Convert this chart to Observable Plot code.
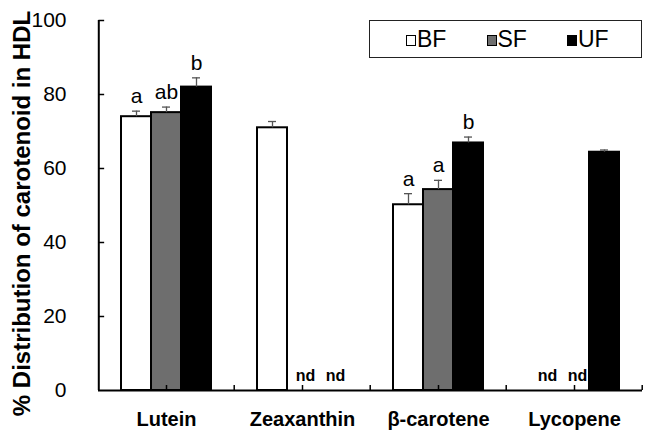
<!DOCTYPE html>
<html>
<head>
<meta charset="utf-8">
<script src="https://cdn.jsdelivr.net/npm/d3@7"></script>
<script src="https://cdn.jsdelivr.net/npm/@observablehq/plot@0.6"></script>
<style>
  html, body { margin: 0; padding: 0; background: white; }
  #wrap { position: relative; width: 651px; height: 439px; font-family: "Liberation Sans", Arial, sans-serif; }
  #legend { position: absolute; left: 369px; top: 20px; width: 273px; height: 38px; border: 1.5px solid #222;
    box-sizing: border-box; font-size: 23px; background: white; }
  .item { position: absolute; top: 0; height: 36px; display: flex; align-items: center; line-height: 1; }
  .sw { width: 8px; height: 9px; border: 1px solid #000; margin-right: 1px; margin-top: 3px; display: inline-block; }
</style>
</head>
<body>
<div id="wrap"></div>
<script>
const categories = ["Lutein", "Zeaxanthin", "β-carotene", "Lycopene"];
const series = ["BF", "SF", "UF"];
const seriesColors = ["white", "#6e6e6e", "black"];
// values (% distribution), null = not detected
const BF = [74.0, 71.0, 50.2, null];
const SF = [75.1, null, 54.3, null];
const UF = [82.0, null, 66.9, 64.4];
// standard errors (upper bars)
const BFerr = [1.5, 1.7, 3.0, null];
const SFerr = [1.5, null, 2.5, null];
const UFerr = [2.5, null, 1.6, 0.6];
// significance letters
const BFsig = ["a", "", "a", ""];
const SFsig = ["ab", "", "a", ""];
const UFsig = ["b", "", "b", ""];
const yTicks = [0, 20, 40, 60, 80, 100];
const yTitle = "% Distribution of carotenoid in HDL";

const table = [[BF, BFerr, BFsig], [SF, SFerr, SFsig], [UF, UFerr, UFsig]];
const rows = [];
categories.forEach((c, i) => {
  series.forEach((s, j) => {
    const [v, e, l] = table[j];
    rows.push({category: c, series: s, value: v[i], err: e[i], letter: l[i]});
  });
});
const present = rows.filter(d => d.value != null);
const nd = rows.filter(d => d.value == null);

const paddingOuter = 0.745;
const facetWidth = (651 - 98 - 9) / categories.length;
const step = facetWidth / (series.length + 2 * paddingOuter);
const edgeOffset = step * (0.5 + paddingOuter);
const first = () => categories[0];

const chart = Plot.plot({
  width: 651,
  height: 439,
  marginLeft: 98,
  marginRight: 9,
  marginTop: 20,
  marginBottom: 49,
  style: {fontFamily: "Liberation Sans, Arial, sans-serif", fontSize: "20px", color: "black", background: "white"},
  fx: {domain: categories, padding: 0, label: null},
  x: {domain: series, paddingInner: 0, paddingOuter, axis: null},
  y: {domain: [0, 100], label: null},
  color: {domain: series, range: seriesColors},
  marks: [
    Plot.barY(present, {fx: "category", x: "series", y: "value", fill: "series", stroke: "black", strokeWidth: 2}),
    Plot.ruleX(present, {fx: "category", x: "series", y1: "value", y2: d => d.value + d.err, stroke: "#555", strokeWidth: 1.3}),
    Plot.tickY(present, {fx: "category", x: "series", y: d => d.value + d.err, stroke: "#555", strokeWidth: 1.3, inset: 11}),
    Plot.text(present, {fx: "category", x: "series", y: d => d.value + d.err, text: "letter", lineAnchor: "bottom", dy: -8, fontSize: 21}),
    Plot.text(nd, {fx: "category", x: "series", y: 0, text: () => "nd", lineAnchor: "bottom", dy: -10, dx: 3, fontSize: 16, fontWeight: "bold"}),
    // x axis line and inward ticks (centres and category boundaries)
    Plot.ruleY([0], {stroke: "black", strokeWidth: 2}),
    Plot.ruleX(categories, {fx: d => d, x: () => "SF", y1: 0, y2: 1.35, stroke: "black", strokeWidth: 1.5}),
    Plot.ruleX(categories, {fx: d => d, x: () => "UF", y1: 0, y2: 1.35, dx: edgeOffset, stroke: "black", strokeWidth: 1.5}),
    Plot.axisFx({anchor: "bottom", tickSize: 0, tickPadding: 21, fontSize: 20, fontWeight: "bold", label: null}),
    // y axis line and inward ticks
    Plot.ruleX([0], {fx: first, x: () => "BF", dx: -edgeOffset, stroke: "black", strokeWidth: 2}),
    Plot.tickY(yTicks.filter(d => d > 0), {fx: first, x: () => "BF", y: d => d, dx: -paddingOuter * step, insetRight: step - 6, stroke: "black", strokeWidth: 1.5}),
    Plot.axisY({ticks: yTicks, anchor: "left", tickSize: 0, tickPadding: 32, fontSize: 21, label: null}),
    Plot.text([yTitle], {fx: first, frameAnchor: "left", textAnchor: "middle", rotate: -90, dx: -76, dy: 8, fontSize: 24, fontWeight: "bold"})
  ]
});

const wrap = document.getElementById("wrap");
wrap.appendChild(chart);
const legend = document.createElement("div");
legend.id = "legend";
series.forEach((s, j) => {
  const it = document.createElement("div");
  it.className = "item";
  it.style.left = (36 + j * 80.5) + "px";
  const sw = document.createElement("span");
  sw.className = "sw";
  sw.style.background = seriesColors[j];
  it.appendChild(sw);
  it.appendChild(document.createTextNode(s));
  legend.appendChild(it);
});
wrap.appendChild(legend);
</script>
</body>
</html>
